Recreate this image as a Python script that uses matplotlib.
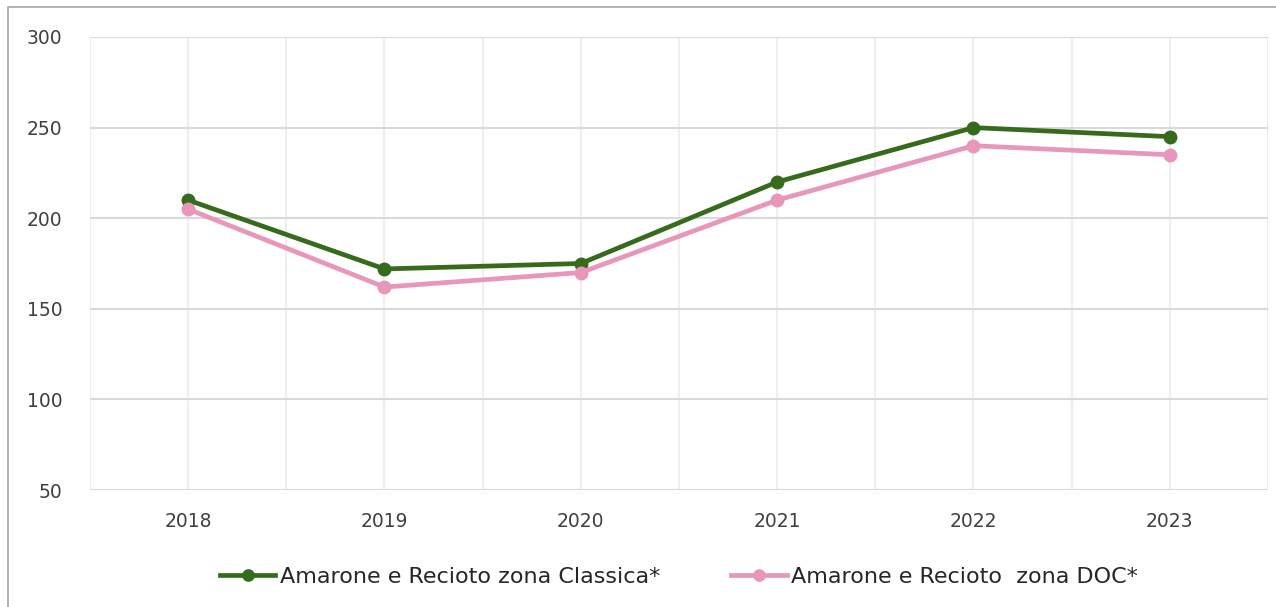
import numpy as np
import matplotlib
matplotlib.use('Agg')
import matplotlib.pyplot as plt
from matplotlib.patches import Rectangle

# Values
years = ['2018', '2019', '2020', '2021', '2022', '2023']
classica = [210, 172, 175, 220, 250, 245]
doc = [205, 162, 170, 210, 240, 235]
labels = ['Amarone e Recioto zona Classica*', 'Amarone e Recioto  zona DOC*']

green = '#376b1c'
pink = '#e897ba'

plt.rcParams['font.family'] = ['DejaVu Sans']

fig = plt.figure(figsize=(12.76, 6.07), dpi=100)
ax = fig.add_axes([90 / 1276, 1 - 490 / 607, 1178 / 1276, 453 / 607])

# outer chart frame (cut off on the right and bottom)
fig.patches.append(Rectangle((8 / 1276, -0.1), 1.2, 1 - 7 / 607 + 0.1,
                             transform=fig.transFigure, fill=False,
                             edgecolor='#a6a6a6', linewidth=1.2))

x = np.arange(len(years))
ax.plot(x, classica, color=green, marker='o', markersize=9, linewidth=3.4,
        label=labels[0], zorder=3)
ax.plot(x, doc, color=pink, marker='o', markersize=9, linewidth=3.4,
        label=labels[1], zorder=3)

ax.set_xlim(-0.5, len(years) - 0.5)
ax.set_ylim(50, 300)
ax.set_yticks(range(50, 301, 50))
ax.set_xticks(x)
ax.set_xticklabels(years)
ax.set_xticks(np.arange(-0.5, len(years), 1), minor=True)

ax.grid(axis='y', color='#d9d9d9', linewidth=1.5)
ax.grid(axis='x', which='both', color='#eeeeee', linewidth=1.5)
ax.set_axisbelow(True)
for s in ax.spines.values():
    s.set_visible(False)
ax.tick_params(which='both', length=0)
ax.tick_params(axis='y', labelsize=13.5, colors='#404040', pad=20)
ax.tick_params(axis='x', labelsize=13.5, colors='#404040', pad=16)

ax.legend(loc='upper center', bbox_to_anchor=(0.5, -0.125), ncol=2,
          frameon=False, fontsize=16, handlelength=2.5, columnspacing=3.2,
          handletextpad=0.2, markerscale=0.9, labelcolor='#262626')

fig.savefig('out.png', dpi=100)
